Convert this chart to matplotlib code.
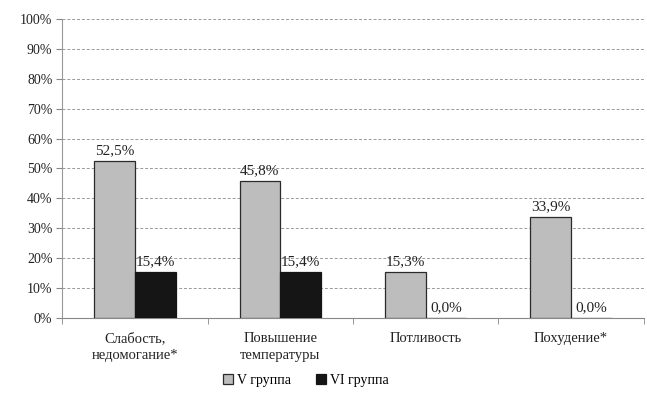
import matplotlib
matplotlib.use("Agg")
import matplotlib.pyplot as plt
import numpy as np
from matplotlib.ticker import FuncFormatter, MultipleLocator

categories = ["Слабость,\nнедомогание*", "Повышение\nтемпературы", "Потливость", "Похудение*"]
group_v = [52.5, 45.8, 15.3, 33.9]
group_vi = [15.4, 15.4, 0.0, 0.0]
series_names = ["V группа", "VI группа"]

plt.rcParams["font.family"] = ["Liberation Serif", "DejaVu Serif"]
plt.rcParams["font.size"] = 10

fig = plt.figure(figsize=(6.47, 3.94), dpi=100)
ax = fig.add_axes([0.096, 0.193, 0.899, 0.759])

x = np.arange(len(categories))
w = 0.28
b1 = ax.bar(x - w / 2, group_v, w, color="#bdbdbd", edgecolor="#2a2a2a", linewidth=0.9,
            label=series_names[0], zorder=3)
b2 = ax.bar(x + w / 2, group_vi, w, color="#151515", edgecolor="#151515", linewidth=0.9,
            label=series_names[1], zorder=3)

def fmt(v):
    return f"{v:.1f}%".replace(".", ",")

for rect, v in zip(list(b1) + list(b2), group_v + group_vi):
    ax.text(rect.get_x() + rect.get_width() / 2, v + 1.3, fmt(v), ha="center", va="bottom",
            fontsize=11, color="#222222")

ax.set_xlim(-0.5, len(categories) - 0.5)
ax.set_ylim(0, 100)
ax.yaxis.set_major_locator(MultipleLocator(10))
ax.yaxis.set_major_formatter(FuncFormatter(lambda v, p: f"{int(round(v))}%"))
ax.grid(axis="y", linestyle=(0, (3, 2)), color="#9a9a9a", linewidth=0.7, zorder=0)

ax.set_xticks(x)
ax.set_xticklabels(categories, fontsize=10.5, color="#222222", linespacing=1.45)
ax.tick_params(axis="x", length=0, pad=10)
ax.set_xticks(np.arange(len(categories) + 1) - 0.5, minor=True)
ax.tick_params(axis="x", which="minor", length=4, color="#888888", direction="out")
ax.tick_params(axis="y", length=4, color="#888888", labelsize=10, labelcolor="#222222", pad=3)

for s in ["top", "right"]:
    ax.spines[s].set_visible(False)
ax.spines["left"].set_color("#999999")
ax.spines["bottom"].set_color("#888888")
ax.spines["left"].set_linewidth(0.8)
ax.spines["bottom"].set_linewidth(0.8)

fig.legend(handles=[b1, b2], labels=series_names, loc="center",
           bbox_to_anchor=(0.473, 0.035), ncol=2, frameon=False,
           fontsize=10, handlelength=0.7, handleheight=0.7, columnspacing=1.8, handletextpad=0.3)

fig.savefig("out.png", dpi=100)
